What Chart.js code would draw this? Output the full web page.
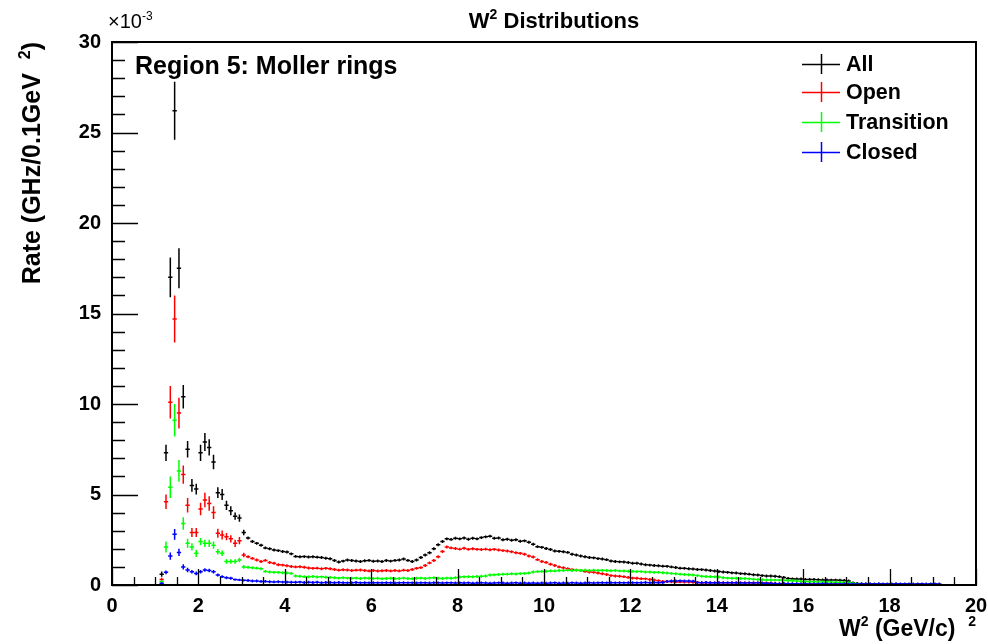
<!DOCTYPE html>
<html>
<head>
<meta charset="utf-8">
<script src="https://cdn.jsdelivr.net/npm/chart.js@4/dist/chart.umd.min.js"></script>
<style>
  html, body { margin: 0; padding: 0; background: #ffffff; }
  #wrap { width: 988px; height: 644px; }
</style>
</head>
<body>
<div id="wrap"><canvas id="c" width="988" height="644"></canvas></div>
<script>
// Histogram binning in W^2 (GeV/c)^2: bins of 0.1 starting at 1.0
const binStart = 1.0;
const binWidth = 0.1;

// Rates in units of 1e-3 GHz per 0.1 GeV^2, one row per unit of W^2
const rateAll = [
  null, 0.6, 7.3, 17.0, 26.2, 17.5, 10.4, 7.5, 5.5, 5.3,
  7.3, 7.9, 7.6, 6.8, 5.1, 5.0, 4.4, 4.1, 3.8, 3.7,
  2.9, 2.6, 2.4, 2.3, 2.2, 2.05, 2.0, 1.93, 1.9, 1.85,
  1.82, 1.72, 1.58, 1.56, 1.57, 1.55, 1.56, 1.54, 1.52, 1.48,
  1.45, 1.35, 1.27, 1.32, 1.38, 1.35, 1.33, 1.3, 1.34, 1.36,
  1.31, 1.33, 1.3, 1.35, 1.32, 1.36, 1.38, 1.44, 1.36, 1.3,
  1.38, 1.52, 1.66, 1.78, 2.0, 2.22, 2.4, 2.55, 2.52, 2.58,
  2.55, 2.6, 2.53, 2.58, 2.55, 2.62, 2.66, 2.7, 2.58, 2.6,
  2.5, 2.53, 2.47, 2.5, 2.42, 2.44, 2.36, 2.25, 2.12, 2.08,
  2.02, 1.96, 1.88, 1.86, 1.84, 1.8, 1.7, 1.66, 1.6, 1.56,
  1.52, 1.5, 1.46, 1.44, 1.4, 1.33, 1.3, 1.28, 1.27, 1.24,
  1.2, 1.2, 1.16, 1.12, 1.1, 1.08, 1.06, 1.04, 1.03, 1.0,
  0.97, 0.93, 0.92, 0.9, 0.88, 0.86, 0.85, 0.83, 0.8, 0.77,
  0.74, 0.72, 0.7, 0.67, 0.66, 0.63, 0.62, 0.6, 0.57, 0.55,
  0.52, 0.5, 0.5, 0.48, 0.46, 0.42, 0.36, 0.34, 0.33, 0.33,
  0.31, 0.3, 0.3, 0.29, 0.28, 0.28, 0.27, 0.27, 0.26, 0.25,
  0.22, 0.12, 0.08, 0.07, 0.06, 0.06, 0.05, 0.06, 0.05, 0.05,
  0.05, 0.06, 0.05, 0.05, 0.05, 0.04, 0.05, 0.05, 0.04, 0.05,
  0.05, 0.04
];

const rateOpen = [
  null, 0.3, 4.6, 10.1, 14.7, 9.5, 6.1, 4.4, 2.9, 2.9,
  4.2, 4.7, 4.5, 4.0, 2.86, 2.76, 2.67, 2.55, 2.3, 2.45,
  1.66, 1.56, 1.47, 1.38, 1.3, 1.36, 1.24, 1.2, 1.12, 1.1,
  1.06, 1.02, 1.0, 1.01, 0.98, 0.94, 0.92, 0.93, 0.9, 0.92,
  0.9, 0.86, 0.82, 0.84, 0.83, 0.8, 0.82, 0.83, 0.8, 0.78,
  0.8, 0.77, 0.79, 0.8, 0.78, 0.8, 0.78, 0.82, 0.8, 0.86,
  0.92, 0.96, 1.08, 1.22, 1.35, 1.56, 1.85, 2.1, 2.05, 2.02,
  1.98, 2.03, 1.97, 2.0, 1.97, 1.96, 1.98, 1.95, 1.97, 1.93,
  1.9, 1.88, 1.84, 1.78, 1.75, 1.7, 1.6, 1.55, 1.4, 1.3,
  1.25, 1.15, 1.08, 1.0, 0.95, 0.9, 0.85, 0.82, 0.8, 0.75,
  0.72, 0.7, 0.66, 0.62, 0.58, 0.52, 0.5, 0.48, 0.46, 0.42,
  0.38, 0.37, 0.35, 0.34, 0.3, 0.28, 0.24, 0.2, 0.19, 0.18,
  0.17, 0.17, 0.16, 0.16, 0.15, 0.14, 0.13, 0.13, 0.13, 0.12,
  0.12, 0.13, 0.12, 0.12, 0.13, 0.12, 0.12, 0.12, 0.12, 0.12,
  0.12, 0.12, 0.11, 0.07, 0.06, 0.06, 0.05, 0.06, 0.05, 0.05,
  0.05, 0.05, 0.05, 0.06, 0.05, 0.05, 0.05, 0.05, 0.05, 0.04,
  0.03, 0.02
];

const rateTransition = [
  null, 0.2, 2.1, 5.4, 9.1, 6.3, 3.4, 2.3, 2.1, 1.75,
  2.4, 2.3, 2.3, 2.2, 1.84, 1.75, 1.3, 1.3, 1.3, 1.38,
  1.0, 0.98, 0.95, 0.93, 0.9, 0.75, 0.72, 0.7, 0.7, 0.68,
  0.66, 0.64, 0.5, 0.48, 0.46, 0.45, 0.47, 0.44, 0.45, 0.43,
  0.42, 0.4, 0.38, 0.4, 0.38, 0.37, 0.38, 0.36, 0.38, 0.37,
  0.36, 0.37, 0.35, 0.36, 0.37, 0.35, 0.36, 0.38, 0.36, 0.35,
  0.37, 0.38, 0.36, 0.38, 0.4, 0.37, 0.36, 0.38, 0.37, 0.4,
  0.44, 0.45, 0.46, 0.45, 0.47, 0.48, 0.5, 0.55, 0.56, 0.58,
  0.6, 0.6, 0.62, 0.61, 0.63, 0.64, 0.66, 0.72, 0.74, 0.75,
  0.76, 0.78, 0.78, 0.8, 0.8, 0.82, 0.8, 0.82, 0.8, 0.82,
  0.8, 0.82, 0.8, 0.81, 0.8, 0.79, 0.8, 0.78, 0.77, 0.76,
  0.75, 0.74, 0.74, 0.72, 0.72, 0.7, 0.7, 0.68, 0.66, 0.64,
  0.62, 0.6, 0.58, 0.57, 0.55, 0.52, 0.48, 0.47, 0.46, 0.45,
  0.44, 0.4, 0.38, 0.37, 0.37, 0.36, 0.36, 0.34, 0.32, 0.3,
  0.29, 0.28, 0.28, 0.27, 0.27, 0.26, 0.25, 0.24, 0.22, 0.2,
  0.19, 0.18, 0.18, 0.17, 0.17, 0.16, 0.16, 0.15, 0.15, 0.14,
  0.13, 0.1, 0.05, 0.02
];

const rateClosed = [
  null, 0.1, 0.7, 1.6, 2.8, 1.8, 1.0, 0.83, 0.73, 0.64,
  0.73, 0.83, 0.8, 0.73, 0.55, 0.46, 0.4, 0.37, 0.3, 0.28,
  0.26, 0.25, 0.22, 0.22, 0.2, 0.2, 0.18, 0.17, 0.18, 0.16,
  0.16, 0.15, 0.15, 0.16, 0.14, 0.15, 0.14, 0.15, 0.13, 0.14,
  0.14, 0.13, 0.14, 0.13, 0.12, 0.13, 0.14, 0.12, 0.13, 0.12,
  0.13, 0.12, 0.12, 0.13, 0.12, 0.11, 0.12, 0.13, 0.12, 0.12,
  0.11, 0.12, 0.12, 0.11, 0.13, 0.12, 0.11, 0.12, 0.12, 0.11,
  0.12, 0.11, 0.12, 0.1, 0.11, 0.12, 0.11, 0.1, 0.11, 0.12,
  0.11, 0.1, 0.11, 0.12, 0.1, 0.11, 0.1, 0.11, 0.1, 0.11,
  0.1, 0.11, 0.12, 0.1, 0.11, 0.1, 0.12, 0.11, 0.1, 0.11,
  0.12, 0.11, 0.12, 0.13, 0.12, 0.13, 0.12, 0.13, 0.12, 0.13,
  0.13, 0.12, 0.13, 0.14, 0.13, 0.14, 0.13, 0.14, 0.2, 0.22,
  0.22, 0.23, 0.22, 0.22, 0.21, 0.14, 0.13, 0.14, 0.13, 0.12,
  0.13, 0.12, 0.12, 0.13, 0.12, 0.12, 0.11, 0.12, 0.11, 0.12,
  0.1, 0.09, 0.08, 0.08, 0.07, 0.08, 0.07, 0.07, 0.07, 0.06,
  0.07, 0.06, 0.06, 0.06, 0.07, 0.06, 0.06, 0.06, 0.05, 0.06,
  0.05, 0.05, 0.05, 0.05, 0.06, 0.05, 0.05, 0.06, 0.05, 0.05,
  0.05, 0.06, 0.05, 0.05, 0.05, 0.04, 0.05, 0.05, 0.04, 0.05,
  0.05, 0.04
];

// Statistical errors of the low-W^2 bins (same units); later bins use errFloor
const errAll        = [null, 0.15, 0.45, 1.1, 1.6, 1.1, 0.65, 0.45, 0.35, 0.3, 0.45, 0.5, 0.45, 0.4, 0.3, 0.3, 0.25, 0.25, 0.2, 0.2, 0.15];
const errOpen       = [null, 0.1, 0.4, 0.9, 1.3, 0.85, 0.5, 0.4, 0.25, 0.25, 0.35, 0.4, 0.4, 0.35, 0.25, 0.25, 0.2, 0.2, 0.2, 0.2, 0.12];
const errTransition = [null, 0.08, 0.3, 0.6, 0.9, 0.6, 0.35, 0.25, 0.2, 0.2, 0.2, 0.2, 0.2, 0.2, 0.15, 0.15, 0.12, 0.12, 0.12, 0.12, 0.1];
const errClosed     = [null, 0.05, 0.1, 0.2, 0.3, 0.2, 0.15, 0.12, 0.1, 0.1, 0.1, 0.1, 0.1, 0.1, 0.08, 0.08, 0.08, 0.08, 0.06, 0.06, 0.06];
const errFloor = 0.08;

const seriesNames  = ['All', 'Open', 'Transition', 'Closed'];
const seriesColors = ['#000000', '#ff0000', '#00ff00', '#0000ff'];
const seriesRates  = [rateAll, rateOpen, rateTransition, rateClosed];
const seriesErrs   = [errAll, errOpen, errTransition, errClosed];

const xTicks = [0, 2, 4, 6, 8, 10, 12, 14, 16, 18, 20];
const yTicks = [0, 5, 10, 15, 20, 25, 30];

const FONT = "'Liberation Sans', Arial, Helvetica, sans-serif";

function toPoints(rates, errs) {
  const pts = [];
  rates.forEach((v, i) => {
    if (v == null) return;
    const e = (errs[i] != null) ? errs[i] : errFloor;
    pts.push({ x: binStart + binWidth * (i + 0.5), y: v, err: e });
  });
  return pts;
}

// Text made of plain and superscript runs
function runsWidth(ctx, runs, size, weight) {
  let w = 0;
  runs.forEach(r => {
    ctx.font = `${weight} ${r.sup ? Math.round(size * 0.62) : size}px ${FONT}`;
    w += ctx.measureText(r.t).width;
  });
  return w;
}
function drawRuns(ctx, runs, x, y, size, align, weight = 'bold') {
  const total = runsWidth(ctx, runs, size, weight);
  let cx = align === 'right' ? x - total : align === 'center' ? x - total / 2 : x;
  ctx.textBaseline = 'alphabetic';
  ctx.textAlign = 'left';
  runs.forEach(r => {
    const s = r.sup ? Math.round(size * 0.62) : size;
    ctx.font = `${weight} ${s}px ${FONT}`;
    ctx.fillText(r.t, cx, r.sup ? y - size * 0.42 : y);
    cx += ctx.measureText(r.t).width;
  });
}

const rootStyle = {
  id: 'rootStyle',
  afterDatasetsDraw(chart) {
    const { ctx, chartArea: a, scales: { x, y } } = chart;

    // error-bar crosses, one per filled bin
    ctx.save();
    ctx.beginPath();
    ctx.rect(a.left, a.top, a.right - a.left, a.bottom - a.top);
    ctx.clip();
    chart.data.datasets.forEach(ds => {
      ctx.strokeStyle = ds.borderColor;
      ctx.lineWidth = 1.5;
      ctx.beginPath();
      ds.data.forEach(p => {
        if (!(p.y > 0)) return;
        const xc = x.getPixelForValue(p.x);
        const yc = y.getPixelForValue(p.y);
        ctx.moveTo(x.getPixelForValue(p.x - binWidth / 2), yc);
        ctx.lineTo(x.getPixelForValue(p.x + binWidth / 2), yc);
        ctx.moveTo(xc, y.getPixelForValue(Math.max(0, p.y - p.err)));
        ctx.lineTo(xc, y.getPixelForValue(p.y + p.err));
      });
      ctx.stroke();
    });
    ctx.restore();

    // frame and inward ticks
    ctx.save();
    ctx.strokeStyle = '#000';
    ctx.lineWidth = 2;
    ctx.strokeRect(a.left, a.top, a.right - a.left, a.bottom - a.top);
    ctx.lineWidth = 1.3;
    ctx.beginPath();
    for (let v = 0; v <= 30 + 1e-9; v += 1) {
      const py = Math.round(y.getPixelForValue(v)) + 0.5;
      const len = (v % 5 === 0) ? 26 : 13;
      ctx.moveTo(a.left, py);
      ctx.lineTo(a.left + len, py);
    }
    for (let k = 0; k <= 40; k++) {
      const v = k * 0.5;
      const px = Math.round(x.getPixelForValue(v)) + 0.5;
      const len = (k % 4 === 0) ? 16 : 8;
      ctx.moveTo(px, a.bottom);
      ctx.lineTo(px, a.bottom - len);
    }
    ctx.stroke();
    ctx.restore();
  },
  afterDraw(chart) {
    const { ctx } = chart;
    ctx.save();
    ctx.fillStyle = '#000';

    // title
    drawRuns(ctx, [{ t: 'W' }, { t: '2', sup: true }, { t: ' Distributions' }], 554, 28, 22, 'center');

    // axis exponent
    drawRuns(ctx, [{ t: '\u00d710' }, { t: '-3', sup: true }], 108, 28, 20, 'left', 'normal');

    // region label
    drawRuns(ctx, [{ t: 'Region 5: Moller rings' }], 135, 74, 25, 'left');

    // x-axis title
    drawRuns(ctx, [{ t: 'W' }, { t: '2', sup: true }, { t: ' (GeV/c)' }, { t: '  ' }, { t: '2', sup: true }], 976, 636, 23, 'right');

    // y-axis title, rotated
    ctx.save();
    ctx.translate(40, 42);
    ctx.rotate(-Math.PI / 2);
    drawRuns(ctx, [{ t: 'Rate (GHz/0.1GeV' }, { t: '  ' }, { t: '2', sup: true }, { t: ')' }], 0, 0, 25, 'right');
    ctx.restore();

    // legend
    const rows = [64, 92, 122, 152];
    chart.data.datasets.forEach((ds, i) => {
      const ly = rows[i];
      ctx.strokeStyle = ds.borderColor;
      ctx.lineWidth = 1.5;
      ctx.beginPath();
      ctx.moveTo(802, ly + 0.5); ctx.lineTo(840, ly + 0.5);
      ctx.moveTo(821.5, ly - 10); ctx.lineTo(821.5, ly + 10);
      ctx.stroke();
      ctx.fillStyle = '#000';
      ctx.font = `bold 21.5px ${FONT}`;
      ctx.textAlign = 'left';
      ctx.textBaseline = 'middle';
      ctx.fillText(ds.label, 846, ly + 1);
    });
    ctx.restore();
  }
};

const datasets = seriesNames.map((name, i) => ({
  label: name,
  data: toPoints(seriesRates[i], seriesErrs[i]),
  borderColor: seriesColors[i],
  backgroundColor: seriesColors[i],
  pointRadius: 0,
  showLine: false
}));

new Chart(document.getElementById('c'), {
  type: 'scatter',
  data: { datasets },
  options: {
    responsive: false,
    devicePixelRatio: 1,
    animation: false,
    layout: { padding: { top: 42, right: 12, left: 0, bottom: 0 } },
    plugins: { legend: { display: false }, tooltip: { enabled: false }, title: { display: false } },
    scales: {
      x: {
        type: 'linear', min: 0, max: 20,
        afterBuildTicks: s => { s.ticks = xTicks.map(v => ({ value: v })); },
        afterFit: s => { s.height = 59; s.paddingLeft = 0; s.paddingRight = 0; },
        grid: { display: false, drawTicks: false },
        border: { display: false },
        ticks: { color: '#000', padding: 9, maxRotation: 0, font: { family: FONT, weight: 'bold', size: 20 } }
      },
      y: {
        type: 'linear', min: 0, max: 30,
        afterBuildTicks: s => { s.ticks = yTicks.map(v => ({ value: v })); },
        afterFit: s => { s.width = 112; s.paddingTop = 0; s.paddingBottom = 0; },
        grid: { display: false, drawTicks: false },
        border: { display: false },
        ticks: { color: '#000', padding: 11, font: { family: FONT, weight: 'bold', size: 20 } }
      }
    }
  },
  plugins: [rootStyle]
});
</script>
</body>
</html>
